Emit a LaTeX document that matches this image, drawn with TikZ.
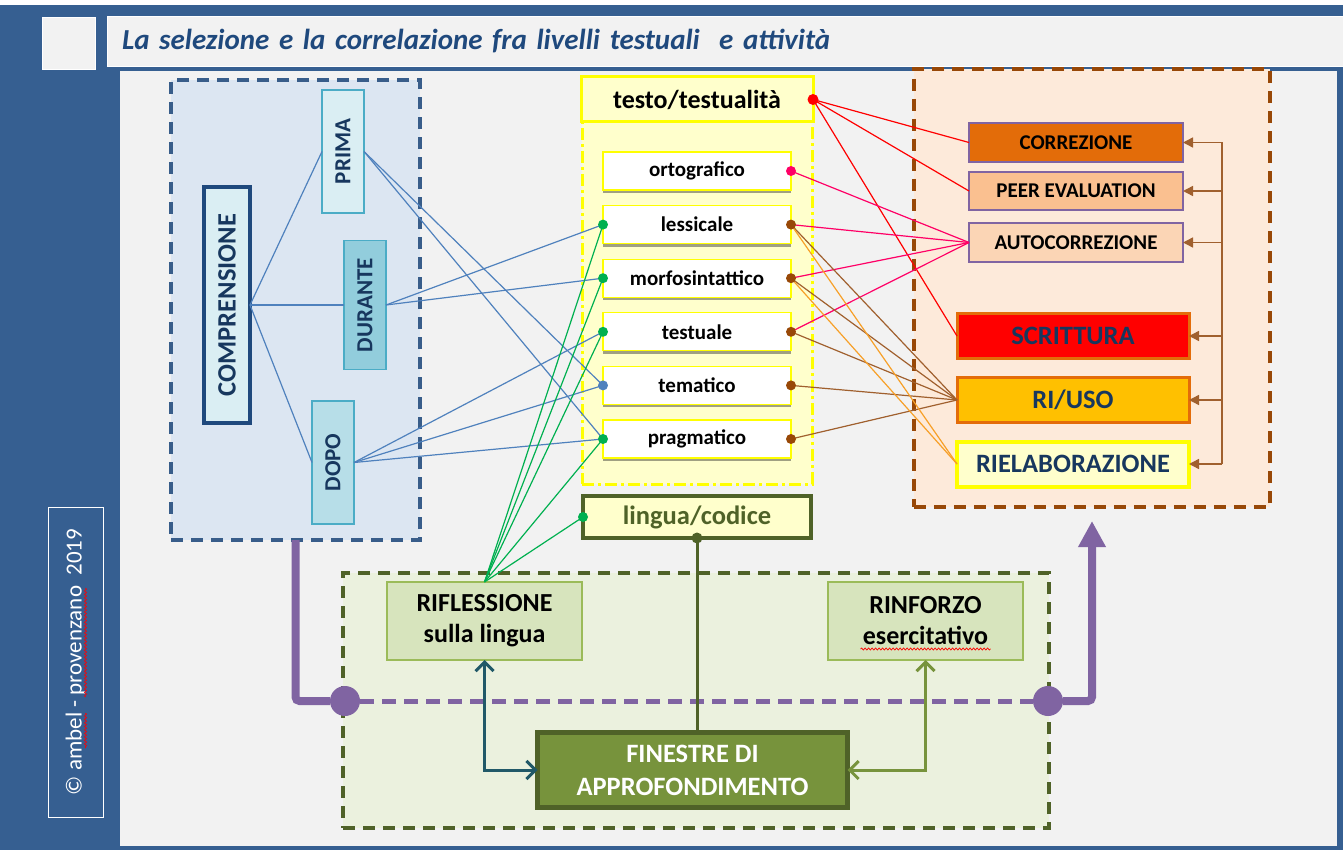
\documentclass[tikz,border=0pt]{standalone}
\usepackage{fontspec}
\setmainfont{Carlito}
\usetikzlibrary{arrows.meta,positioning,shadows,decorations.pathmorphing}
\usepackage{color}

\definecolor{cornice}{RGB}{54,95,145}
\definecolor{fondo}{RGB}{242,242,242}
\definecolor{titblu}{RGB}{31,73,125}
\definecolor{comprfill}{RGB}{220,230,242}
\definecolor{comprbordo}{RGB}{56,93,138}
\definecolor{comprblu}{RGB}{31,73,125}
\definecolor{azzurro}{RGB}{218,238,243}
\definecolor{azzurro2}{RGB}{146,205,220}
\definecolor{azzurro3}{RGB}{183,222,232}
\definecolor{acqua}{RGB}{75,172,198}
\definecolor{blunotte}{RGB}{23,55,94}
\definecolor{giallino}{RGB}{255,255,204}
\definecolor{giallo}{RGB}{255,255,0}
\definecolor{pesca}{RGB}{253,234,218}
\definecolor{marrone}{RGB}{152,72,7}
\definecolor{bruno}{RGB}{160,96,46}
\definecolor{arancio}{RGB}{227,108,9}
\definecolor{arancio2}{RGB}{250,192,144}
\definecolor{arancio3}{RGB}{251,213,181}
\definecolor{viola}{RGB}{128,100,162}
\definecolor{oro}{RGB}{255,192,0}
\definecolor{ocra}{RGB}{247,160,40}
\definecolor{oliva}{RGB}{79,98,40}
\definecolor{oliva2}{RGB}{119,147,60}
\definecolor{salvia}{RGB}{215,228,189}
\definecolor{salvia2}{RGB}{155,187,89}
\definecolor{verdino}{RGB}{235,241,222}
\definecolor{blu}{RGB}{79,129,189}
\definecolor{verde}{RGB}{0,176,80}
\definecolor{rosa}{RGB}{255,0,102}
\definecolor{petrolio}{RGB}{33,89,104}
\definecolor{ombra}{RGB}{160,160,130}

\newcommand{\fsz}[2]{\fontsize{#1pt}{#2pt}\selectfont}

\begin{document}
\begin{tikzpicture}[x=1pt, y=-1pt]
		% stili
		\tikzstyle{every node}=[outer sep=0pt, inner sep=0pt, node distance=53.6pt]
		\tikzstyle{gruppo}=[draw, dash pattern=on 12pt off 8pt, line width=3.5pt]
		\tikzstyle{fase}=[draw=acqua, line width=1.2pt, minimum width=42pt, font=\bfseries\fsz{23}{26}, text=blunotte]
		\tikzstyle{livello}=[draw=giallo, fill=white, line width=1.2pt, minimum width=188pt, minimum height=38pt, font=\bfseries\fsz{21}{25}, drop shadow={shadow xshift=0pt, shadow yshift=-3pt, fill=ombra, opacity=1}]
		\tikzstyle{esito}=[draw=viola, line width=1.2pt, minimum width=214pt, font=\bfseries\fsz{21}{25}]
		\tikzstyle{uscita}=[draw=arancio, line width=3pt, minimum width=232pt, minimum height=45pt, font=\bfseries\fsz{26.5}{30}, text=blunotte]
		\tikzstyle{attivita}=[draw=salvia2, fill=salvia, line width=1.2pt, minimum width=195pt, minimum height=78pt, align=center, font=\bfseries\fsz{26}{31}]
		\tikzstyle{punto}=[circle, minimum size=30pt, fill=viola]
		\tikzstyle{filo}=[line width=1.2pt]
		\tikzstyle{freccia}=[bruno, line width=1.5pt, -{Triangle[length=10pt,width=10pt]}]
		\tikzstyle{doppia}=[line width=3pt, {Straight Barb[length=9pt,width=18pt]}-{Straight Barb[length=9pt,width=18pt]}]
		\tikzstyle{segno}=[red, line width=0.7pt, decorate, decoration={snake, amplitude=1pt, segment length=3.5pt}]
		% sfondo
		\useasboundingbox (0,0) rectangle (1343,850);
		\fill[cornice] (0,0) rectangle (1343,850);
		\fill[white] (0,0) rectangle (1343,5);
		\fill[fondo] (120,71) rectangle (1337,846);
		\node [fill=fondo, draw=white, minimum width=53pt, minimum height=52pt] (quadro) at (68.5,43) {};
		\node [fill=fondo, draw=white, anchor=west, text width=1206pt, inner xsep=15pt, minimum height=50pt, font=\bfseries\itshape\fsz{29}{32}, text=titblu] (titolo) at (107,41) {La selezione e la correlazione fra livelli testuali~ e attività};
		\node [draw=white, line width=1pt, minimum width=55pt, minimum height=310pt] (firma) at (75.5,662) {\rotatebox{90}{\fsz{23}{26}\color{white}© ambel - provenzano~ 2019}};
		% gruppi
		\node [gruppo, draw=comprbordo, fill=comprfill, minimum width=249pt, minimum height=460pt] (gcompr) at (295.5,310) {};
		\node [draw=giallo, fill=giallino, line width=3pt, dash pattern=on 12pt off 4pt on 3pt off 4pt, minimum width=230pt, minimum height=362pt] (glivelli) at (697,303) {};
		\node [gruppo, draw=marrone, fill=pesca, minimum width=356pt, minimum height=438pt] (gesiti) at (1092,288) {};
		\node [gruppo, draw=oliva, fill=verdino, minimum width=706pt, minimum height=255pt] (gfin) at (696,700.5) {};
		% nodi: comprensione
		\node [draw=comprblu, fill=azzurro, line width=4pt, minimum width=46pt, minimum height=236pt, font=\bfseries\fsz{26.5}{30}, text=blunotte] (compr) at (227,305) {\rotatebox{90}{COMPRENSIONE}};
		\node [fase, fill=azzurro, minimum height=123pt] (prima) at (343,151.5) {\rotatebox{90}{PRIMA}};
		\node [fase, fill=azzurro2, minimum height=129pt] (durante) [right=94pt of compr] {\rotatebox{90}{DURANTE}};
		\node [fase, fill=azzurro3, minimum height=123pt] (dopo) at (333,462.5) {\rotatebox{90}{DOPO}};
		% nodi: livelli
		\node [draw=giallo, fill=giallino, line width=3pt, minimum width=232pt, minimum height=45pt, font=\bfseries\fsz{26}{30}] (testo) at (697,99.5) {testo/testualità};
		\node [livello] (orto) at (697,171) {ortografico};
		\node [livello] (less) [below of=orto] {lessicale};
		\node [livello] (morfo) [below of=less] {morfosintattico};
		\node [livello] (test) [below of=morfo] {testuale};
		\node [livello] (tema) [below of=test] {tematico};
		\node [livello] (prag) [below of=tema] {pragmatico};
		\node [draw=oliva, fill=giallino, line width=4pt, minimum width=228pt, minimum height=42pt, font=\bfseries\fsz{26.5}{30}, text=oliva] (lingua) at (697,517) {lingua/codice};
		% nodi: esiti
		\node [esito, fill=arancio, minimum height=39pt] (corr) at (1076,142.5) {CORREZIONE};
		\node [esito, fill=arancio2, minimum height=38pt] (peer) at (1076,191) {PEER EVALUATION};
		\node [esito, fill=arancio3, minimum height=39pt] (autoc) at (1076,242.5) {AUTOCORREZIONE};
		\node [uscita, fill=red] (scritt) at (1073,336) {SCRITTURA};
		\node [uscita, fill=oro] (riuso) at (1073,400) {RI/USO};
		\node [uscita, draw=giallo, fill=giallino, line width=4pt] (rielab) at (1073,464) {RIELABORAZIONE};
		% nodi: attivita
		\node [attivita] (rifl) at (484.5,621) {RIFLESSIONE\\sulla lingua};
		\node [attivita] (rinf) at (925.5,621) {RINFORZO\\esercitativo};
		\node [draw=oliva, fill=oliva2, line width=5pt, minimum width=310pt, minimum height=75pt, align=center, font=\bfseries\fsz{26.5}{33}, text=white] (fin) at (692.5,770) {FINESTRE DI\\APPROFONDIMENTO};
		% relazioni
		\draw [filo, blu] (compr.east) -- (prima.west);
		\draw [filo, blu] (compr.east) -- (durante.west);
		\draw [filo, blu] (compr.east) -- (dopo.west);
		\draw [filo, blu] (prima.east) -- (tema.west);
		\draw [filo, blu] (prima.east) -- (prag.west);
		\draw [filo, blu] (durante.east) -- (less.west);
		\draw [filo, blu] (durante.east) -- (morfo.west);
		\draw [filo, blu] (dopo.east) -- (test.west);
		\draw [filo, blu] (dopo.east) -- (tema.west);
		\draw [filo, blu] (dopo.east) -- (prag.west);
		\draw [filo, verde] (rifl.north) -- (less.west);
		\draw [filo, verde] (rifl.north) -- (morfo.west);
		\draw [filo, verde] (rifl.north) -- (test.west);
		\draw [filo, verde] (rifl.north) -- (prag.west);
		\draw [filo, verde] (rifl.north) -- (lingua.west);
		\draw [filo, red] (testo.east) -- (corr.west);
		\draw [filo, red] (testo.east) -- (peer.west);
		\draw [filo, red] (testo.east) -- (scritt.west);
		\draw [filo, rosa] (orto.east) -- (autoc.west);
		\draw [filo, rosa] (less.east) -- (autoc.west);
		\draw [filo, rosa] (morfo.east) -- (autoc.west);
		\draw [filo, rosa] (test.east) -- (autoc.west);
		\draw [filo, bruno] (less.east) -- (riuso.west);
		\draw [filo, bruno] (morfo.east) -- (riuso.west);
		\draw [filo, bruno] (test.east) -- (riuso.west);
		\draw [filo, bruno] (tema.east) -- (riuso.west);
		\draw [filo, bruno] (prag.east) -- (riuso.west);
		\draw [filo, ocra] (less.east) -- (rielab.west);
		\draw [filo, ocra] (morfo.east) -- (rielab.west);
		% punti
		\fill [red] (testo.east) circle (5.5pt);
		\fill [rosa] (orto.east) circle (5pt);
		\fill [marrone] (less.east) circle (5pt);
		\fill [marrone] (morfo.east) circle (5pt);
		\fill [marrone] (test.east) circle (5pt);
		\fill [marrone] (tema.east) circle (5pt);
		\fill [marrone] (prag.east) circle (5pt);
		\fill [verde] (less.west) circle (5pt);
		\fill [verde] (morfo.west) circle (5pt);
		\fill [verde] (test.west) circle (5pt);
		\fill [blu] (tema.west) circle (5pt);
		\fill [verde] (prag.west) circle (5pt);
		\fill [verde] (lingua.west) circle (5pt);
		% ritorno
		\coordinate (bus) at (1222,142);
		\draw [bruno, line width=1.5pt] (bus |- corr.east) -- (bus |- rielab.east);
		\draw [freccia] (bus |- corr.east) -- (corr.east);
		\draw [freccia] (bus |- peer.east) -- (peer.east);
		\draw [freccia] (bus |- autoc.east) -- (autoc.east);
		\draw [freccia] (bus |- scritt.east) -- (scritt.east);
		\draw [freccia] (bus |- riuso.east) -- (riuso.east);
		\draw [freccia] (bus |- rielab.east) -- (rielab.east);
		% percorso
		\node [punto] (pl) at (345,701) {};
		\node [punto] (pr) at (1048,701) {};
		\draw [viola, line width=8pt, rounded corners=4pt] (gcompr.south) |- (pl);
		\draw [viola, line width=5pt, dash pattern=on 14pt off 8pt] (pl) -- (pr);
		\draw [viola, line width=8pt, rounded corners=4pt, -{Triangle[length=26pt,width=26pt]}] (pr) -| ([yshift=-14pt]gesiti.south);
		\draw [oliva, line width=3pt] (lingua.south) -- (lingua.south |- fin.north);
		\fill [oliva] (lingua.south) circle (5.5pt);
		\draw [doppia, petrolio] (rifl.south) |- (fin.west);
		\draw [doppia, oliva2] (rinf.south) |- (fin.east);
		% sottolineature
		\draw [segno] ([xshift=-65pt, yshift=-28pt]rinf.center) -- ([xshift=65pt, yshift=-28pt]rinf.center);
		\draw [segno] ([xshift=10pt, yshift=-51pt]firma.center) -- ([xshift=10pt, yshift=-86pt]firma.center);
		\draw [segno] ([xshift=10pt, yshift=74pt]firma.center) -- ([xshift=10pt, yshift=-35pt]firma.center);
	\end{tikzpicture}
\end{document}
